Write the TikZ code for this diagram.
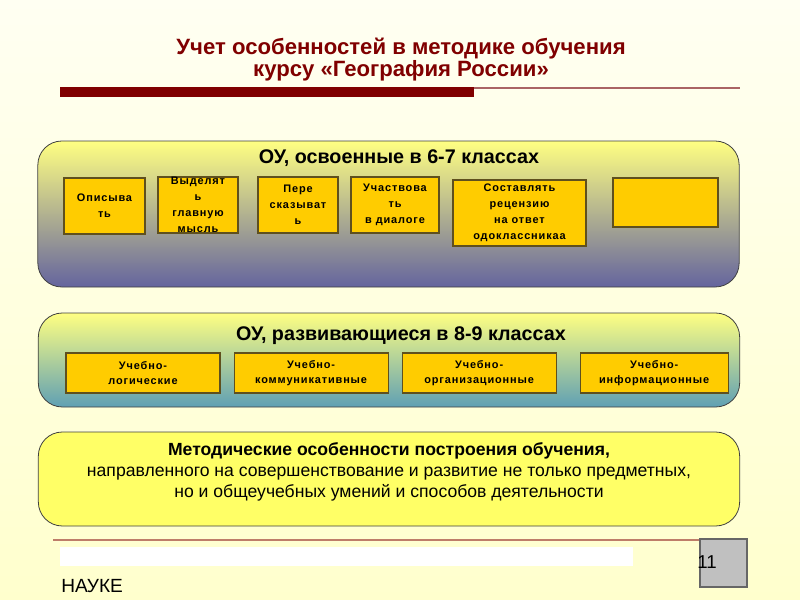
\documentclass[tikz,border=0pt]{standalone}
\usepackage{fontspec}
\setmainfont{Liberation Sans}
\newfontfamily\boxfont[LetterSpace=8]{Liberation Sans}
\usetikzlibrary{positioning}

\definecolor{titlered}{RGB}{128,0,0}
\definecolor{linered}{RGB}{170,100,100}
\definecolor{footline}{RGB}{190,125,105}
\definecolor{bgtop}{RGB}{255,255,242}
\definecolor{bgbot}{RGB}{255,255,205}
\definecolor{paleyellow}{RGB}{255,255,130}
\definecolor{slateblue}{RGB}{100,100,158}
\definecolor{tealblue}{RGB}{95,160,180}
\definecolor{notefill}{RGB}{255,255,102}
\definecolor{skillfill}{RGB}{255,204,0}
\definecolor{skillborder}{RGB}{95,80,30}
\definecolor{pagegray}{RGB}{192,192,192}

\begin{document}
\begin{tikzpicture}[x=0.75pt, y=-0.75pt]
        \tikzstyle{groupbox}=[rectangle, rounded corners=18pt, draw=black!75, line width=0.6pt, inner sep=0pt, minimum width=526pt, minimum height=70.5pt]
        \tikzstyle{skillnode}=[rectangle, draw=skillborder, fill=skillfill, line width=0.8pt, align=center, inner sep=0pt, font=\boxfont\bfseries\fontsize{8.2}{12}\selectfont]
        \tikzstyle{headnode}=[font=\bfseries\fontsize{14.8}{16}\selectfont]
        % page
        \shade[top color=bgtop, bottom color=bgbot] (0,0) rectangle (800,600);
        \useasboundingbox (0,0) rectangle (800,600);
        % title
        \node[text=titlered, align=center, font=\bfseries\fontsize{16.6}{16.5}\selectfont] (title) at (401,60) {Учет особенностей в методике обучения\\курсу «География России»};
        \draw[linered, line width=1.2pt] (60,88) -- (740,88);
        \fill[titlered] (60,87) rectangle (474,97);
        % 6-7
        \node[groupbox, minimum height=109.5pt, top color=paleyellow, bottom color=slateblue] (grp1) at (388.5,214) {};
        \node[headnode] (grp1title) at (399,158) {ОУ, освоенные в 6-7 классах};
        \node[skillnode, minimum width=60.75pt, minimum height=42pt] (s1) at (104.5,206) {Описыва\\ть};
        \node[skillnode, minimum width=60pt, minimum height=42pt] (s2) at (198,205) {Выделят\\ь\\главную\\мысль};
        \node[skillnode, minimum width=60pt, minimum height=42pt] (s3) at (298,205) {Пере\\сказыват\\ь};
        \node[skillnode, minimum width=66pt, minimum height=42pt] (s4) at (395,205) {Участвова\\ть\\в диалоге};
        \node[skillnode, minimum width=99.75pt, minimum height=49.5pt] (s5) at (519.5,213) {Составлять\\рецензию\\на ответ\\одоклассникаа};
        \node[skillnode, minimum width=78.75pt, minimum height=36.75pt] (s6) at (665.5,202.5) {};
        % 8-9
        \node[groupbox, top color=paleyellow, bottom color=tealblue] (grp2) at (389,360) {};
        \node[headnode] (grp2title) at (401,336) {ОУ, развивающиеся в 8-9 классах};
        \tikzstyle{widenode}=[skillnode, minimum width=115.5pt, minimum height=30pt, font=\boxfont\bfseries\fontsize{8.2}{11.25}\selectfont]
        \node[widenode] (r1) at (143,373) {Учебно-\\логические};
        \node[widenode, right=9.75pt of r1] (r2) {Учебно-\\коммуникативные};
        \node[widenode, right=9.75pt of r2] (r3) {Учебно-\\организационные};
        \node[widenode, minimum width=111pt, right=17.25pt of r3] (r4) {Учебно-\\информационные};
        % note
        \node[groupbox, fill=notefill] (grp3) at (389,479) {};
        \node[align=center, font=\fontsize{13.2}{16}\selectfont] (note) at (389,472) {\textbf{Методические особенности построения обучения,}\\направленного на совершенствование и развитие не только предметных,\\но и общеучебных умений и способов деятельности};
        % footer
        \draw[footline, line width=1.5pt] (53,539.5) -- (700,539.5);
        \fill[white] (60,547) rectangle (633,566);
        \node[anchor=west, inner sep=0pt, font=\fontsize{14.3}{16}\selectfont] (footer) at (61,586) {НАУКЕ};
        \node[rectangle, draw=black!60, fill=pagegray, line width=0.8pt, minimum width=35.25pt, minimum height=36pt] (pagebox) at (723.5,563) {};
        \node[anchor=west, inner sep=0pt, font=\fontsize{14}{16}\selectfont] (pagenum) at (697,562) {11};
    \end{tikzpicture}
\end{document}
